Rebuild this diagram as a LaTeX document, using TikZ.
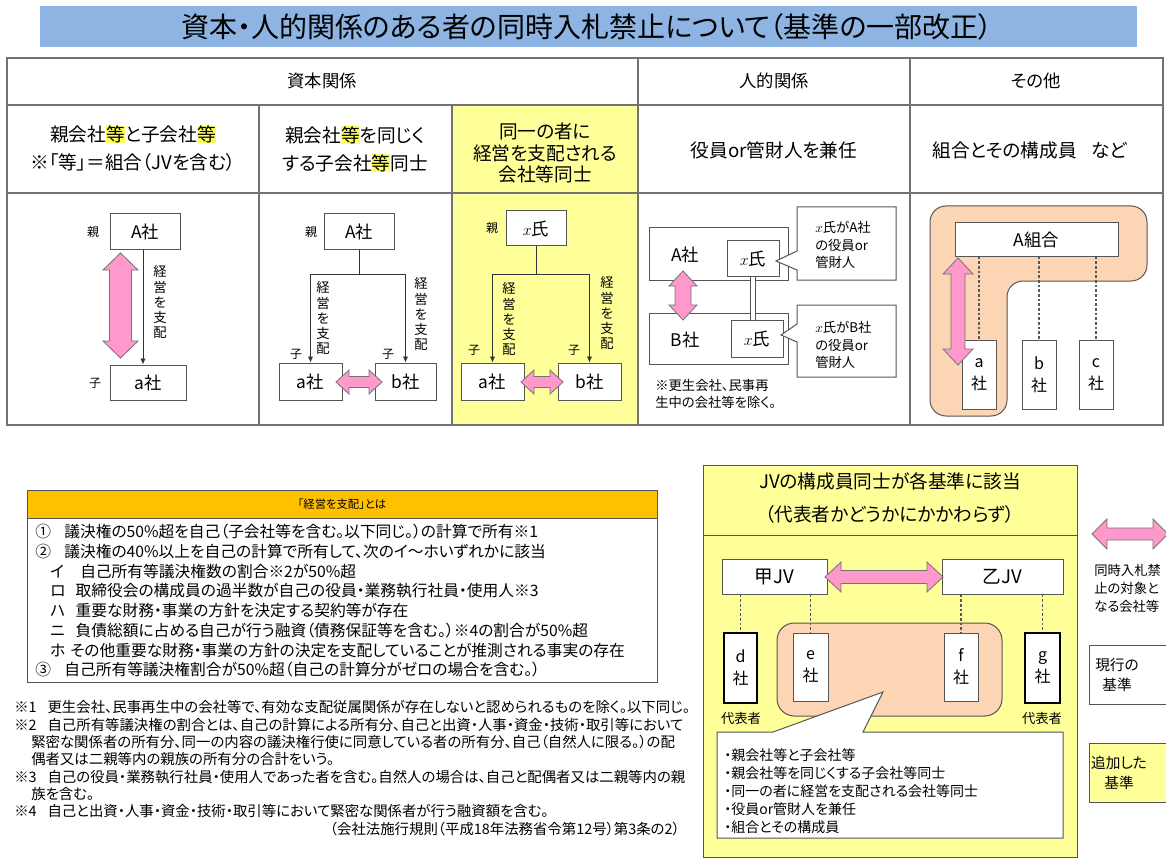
\documentclass[tikz,border=0pt]{standalone}
\usepackage{fontspec}
\setmainfont{Noto Sans CJK JP}[RawFeature=+palt]
\usetikzlibrary{arrows.meta}
\definecolor{titleblue}{RGB}{141,180,226}
\definecolor{yel}{RGB}{255,255,153}
\definecolor{hlyel}{RGB}{255,255,90}
\definecolor{hdrorange}{RGB}{255,192,0}
\definecolor{peach}{RGB}{252,213,180}
\definecolor{pinkarr}{RGB}{255,153,204}
\definecolor{linegray}{RGB}{85,85,85}
\newcommand\fsz[2]{\fontsize{#1}{#2}\selectfont}
\newcommand\hlt[1]{{\setlength{\fboxsep}{0pt}\colorbox{hlyel}{#1}}}
\newcommand\boxat[6]{\node[#1,minimum width={(#4-#2)*0.75pt},minimum height={(#5-#3)*0.75pt}] (#6) at ({(#2+#4)/2},{(#3+#5)/2})}
\newcommand\pinkH[6]{\filldraw[parr] (#1,#3) -- ({#1+#6},{#3-#4}) -- ({#1+#6},{#3-#5}) -- ({#2-#6},{#3-#5}) -- ({#2-#6},{#3-#4}) -- (#2,#3) -- ({#2-#6},{#3+#4}) -- ({#2-#6},{#3+#5}) -- ({#1+#6},{#3+#5}) -- ({#1+#6},{#3+#4}) -- cycle;}
\newcommand\pinkV[6]{\filldraw[parr] (#1,#2) -- ({#1+#4},{#2+#6}) -- ({#1+#5},{#2+#6}) -- ({#1+#5},{#3-#6}) -- ({#1+#4},{#3-#6}) -- (#1,#3) -- ({#1-#4},{#3-#6}) -- ({#1-#5},{#3-#6}) -- ({#1-#5},{#2+#6}) -- ({#1-#4},{#2+#6}) -- cycle;}
\tikzset{
 bx/.style={draw=linegray, line width=0.75pt, fill=white, inner sep=0pt, font=\fsz{13}{15}},
 bold box/.style={bx, draw=black, line width=1.9pt},
 lbl/.style={inner sep=0pt, font=\fsz{9}{10}},
 vtx/.style={inner sep=0pt, align=center, font=\fsz{10}{11.3}},
 hdr/.style={inner sep=0pt, font=\fsz{13}{15}},
 rowtwo/.style={inner sep=0pt, align=center, font=\fsz{14}{21}},
 ln/.style={draw=black!80, line width=0.6pt},
 ctl/.style={ln, -{Latex[length=4.5pt,width=4pt]}},
 tbl/.style={draw=black!55, line width=1.2pt},
 dotl/.style={draw=black!65, line width=0.8pt, dash pattern=on 2pt off 1.5pt},
 parr/.style={fill=pinkarr, draw=black!55, line width=0.6pt},
 txt/.style={inner sep=0pt, anchor=west},
 boxline/.style={txt, font=\fsz{11.8}{14}},
 fnote/.style={txt, font=\fsz{10.8}{13}},
 small/.style={inner sep=0pt, font=\fsz{10}{13}},
}
\begin{document}
\begin{tikzpicture}[x=0.75pt,y=-0.75pt]
\useasboundingbox (0,0) rectangle (1166,859);
\clip (0,0) rectangle (1166,859);
\fill[white] (0,0) rectangle (1166,859);

% ---------- title ----------
\fill[titleblue] (40,6) rectangle (1137,47);
\node[inner sep=0pt, font=\fsz{21}{24}] (title) at (587,27) {資本・人的関係のある者の同時入札禁止について（基準の一部改正）};

% ---------- table ----------
\fill[yel] (452,105) rectangle (638,425);
\draw[tbl] (7,58) rectangle (1163,425);
\draw[tbl] (7,105) -- (1163,105);
\draw[tbl] (7,193) -- (1163,193);
\draw[tbl] (259,105) -- (259,425);
\draw[tbl] (452,105) -- (452,425);
\draw[tbl] (638,58) -- (638,425);
\draw[tbl] (910,58) -- (910,425);

\node[hdr] (h1) at (322,81) {資本関係};
\node[hdr] (h2) at (774,81) {人的関係};
\node[hdr] (h3) at (1036,81) {その他};

\node[rowtwo] (c1) at (133,149) {親会社\hlt{等}と子会社\hlt{等}\\※「等」＝組合（JVを含む）};
\node[rowtwo] (c2) at (355,149) {親会社\hlt{等}を同じく\\する子会社\hlt{等}同士};
\node[rowtwo, font=\fsz{14}{15.8}] (c3) at (545,153) {同一の者に\\経営を支配される\\会社等同士};
\node[rowtwo] (c4) at (774,150) {役員or管財人を兼任};
\node[rowtwo] (c5) at (1030,150) {組合とその構成員\hspace{0.8em}など};

% ---------- column 1 ----------
\boxat{bx}{110}{214}{180}{249}{A1} {A社};
\node[lbl] (p1) at (93,232) {親};
\boxat{bx}{110}{365}{186}{400}{a1} {a社};
\node[lbl] (k1) at (95,383) {子};
\coordinate (l1) at (143,0);
\draw[ctl] (A1.south -| l1) -- (a1.north -| l1);
\node[vtx] (v1) at (160,302) {経\\営\\を\\支\\配};
\pinkV{120.5}{253}{358}{17.5}{11}{17}

% ---------- column 2 ----------
\boxat{bx}{324}{214}{394}{249}{A2} {A社};
\node[lbl] (p2) at (311,232) {親};
\boxat{bx}{279}{363}{342}{400}{a2} {a社};
\boxat{bx}{375}{363}{436}{400}{b2} {b社};
\coordinate (j2) at (359,274);
\draw[ln] (A2.south) -- (A2.south |- j2);
\draw[ctl] (A2.south |- j2) -| (a2.north);
\draw[ctl] (A2.south |- j2) -| (b2.north);
\node[vtx] (v2a) at (323,318) {経\\営\\を\\支\\配};
\node[vtx] (v2b) at (421,314) {経\\営\\を\\支\\配};
\node[lbl] (k2a) at (296,354) {子};
\node[lbl] (k2b) at (388,354) {子};
\pinkH{336}{382}{382}{12}{5.5}{13}

% ---------- column 3 ----------
\boxat{bx}{506}{211}{566}{246}{X3} {$x$氏};
\node[lbl] (p3) at (492,228) {親};
\boxat{bx}{461}{363}{524}{400}{a3} {a社};
\boxat{bx}{558}{363}{621}{400}{b3} {b社};
\coordinate (j3) at (536,274);
\draw[ln] (X3.south) -- (X3.south |- j3);
\draw[ctl] (X3.south |- j3) -| (a3.north);
\draw[ctl] (X3.south |- j3) -| (b3.north);
\node[vtx] (v3a) at (509,319) {経\\営\\を\\支\\配};
\node[vtx] (v3b) at (607,313) {経\\営\\を\\支\\配};
\node[lbl] (k3a) at (474,350) {子};
\node[lbl] (k3b) at (574,350) {子};
\pinkH{521}{563}{382}{12}{5.5}{13}

% ---------- column 4 ----------
\boxat{bx}{649}{228}{788}{280}{AA} {};
\node[inner sep=0pt, font=\fsz{13}{15}] (AAt) at (685,255) {A社};
\boxat{bx}{649}{313}{788}{364}{BB} {};
\node[inner sep=0pt, font=\fsz{13}{15}] (BBt) at (685,340) {B社};
\boxat{bx}{727}{241}{779}{276}{xA} {$x$氏};
\boxat{bx}{731}{320}{783}{357}{xB} {$x$氏};
\draw[draw=linegray, line width=0.6pt, double=white, double distance=3pt] (xA.south) -- (xA.south |- xB.north);
\pinkV{683}{271}{320}{14}{8}{15}
\filldraw[draw=linegray, line width=0.75pt, fill=white] (797,207) -- (896,207) -- (896,280) -- (797,280) -- (797,270) -- (776,261) -- (797,251) -- cycle;
\node[txt, font=\fsz{10}{13}, align=left] (co1) at (815,245) {$x$氏がA社\\の役員or\\管財人};
\filldraw[draw=linegray, line width=0.75pt, fill=white] (797,305) -- (896,305) -- (896,377) -- (797,377) -- (797,342) -- (781,335) -- (797,324) -- cycle;
\node[txt, font=\fsz{10}{13}, align=left] (co2) at (815,345) {$x$氏がB社\\の役員or\\管財人};
\node[txt, font=\fsz{10}{12.8}, align=left] (nt4) at (655,394) {※更生会社、民事再\\生中の会社等を除く。};

% ---------- column 5 ----------
\draw[fill=peach, draw=linegray, line width=0.75pt, rounded corners=12] (930,206) -- (1147,206) -- (1147,281) -- (1007,281) -- (1007,416) -- (930,416) -- cycle;
\boxat{bx}{955}{223}{1118}{256}{U5} {A組合};
\boxat{bx, align=center, font=\fsz{12}{16.3}}{962}{340}{996}{409}{a5} {a\\社};
\boxat{bx, align=center, font=\fsz{12}{16.3}}{1022}{340}{1056}{409}{b5} {b\\社};
\boxat{bx, align=center, font=\fsz{12}{16.3}}{1079}{340}{1113}{409}{c5} {c\\社};
\draw[dotl] (a5.north |- U5.south) -- (a5.north);
\draw[dotl] (b5.north |- U5.south) -- (b5.north);
\draw[dotl] (c5.north |- U5.south) -- (c5.north);
\pinkV{958}{258}{365}{15}{7}{16}

% ---------- "経営を支配"とは ----------
\filldraw[fill=white, draw=linegray, line width=0.75pt] (27,490) rectangle (657,682);
\filldraw[fill=hdrorange, draw=linegray, line width=0.75pt] (27,490) rectangle (657,518);
\node[inner sep=0pt, font=\fsz{8.5}{10}] (kh) at (342,504) {「経営を支配」とは};
\node[boxline] (k1l) at (35,532) {\hbox to 21.8pt{①\hss}議決権の50\%超を自己（子会社等を含む。以下同じ。）の計算で所有※1};
\node[boxline] (k2l) at (35,551.7) {\hbox to 21.8pt{②\hss}議決権の40\%以上を自己の計算で所有して、次のイ～ホいずれかに該当};
\node[boxline] (k3l) at (50,571.4) {\hbox to 22.5pt{イ\hss}自己所有等議決権数の割合※2が50\%超};
\node[boxline] (k4l) at (50,591.1) {\hbox to 19pt{ロ\hss}取締役会の構成員の過半数が自己の役員・業務執行社員・使用人※3};
\node[boxline] (k5l) at (50,610.8) {\hbox to 19pt{ハ\hss}重要な財務・事業の方針を決定する契約等が存在};
\node[boxline] (k6l) at (50,630.5) {\hbox to 19pt{ニ\hss}負債総額に占める自己が行う融資（債務保証等を含む。）※4の割合が50\%超};
\node[boxline] (k7l) at (50,650.2) {\hbox to 15pt{ホ\hss}その他重要な財務・事業の方針の決定を支配していることが推測される事実の存在};
\node[boxline] (k8l) at (35,670) {\hbox to 21.8pt{③\hss}自己所有等議決権割合が50\%超（自己の計算分がゼロの場合を含む。）};

% ---------- footnotes ----------
\node[fnote] (f1) at (14,707) {\hbox to 25pt{※1\hss}更生会社、民事再生中の会社等で、有効な支配従属関係が存在しないと認められるものを除く。以下同じ。};
\node[fnote] (f2) at (14,725) {\hbox to 25pt{※2\hss}自己所有等議決権の割合とは、自己の計算による所有分、自己と出資・人事・資金・技術・取引等において};
\node[fnote] (f2b) at (31,742) {緊密な関係者の所有分、同一の内容の議決権行使に同意している者の所有分、自己（自然人に限る。）の配};
\node[fnote] (f2c) at (31,759) {偶者又は二親等内の親族の所有分の合計をいう。};
\node[fnote] (f3) at (14,777) {\hbox to 25pt{※3\hss}自己の役員・業務執行社員・使用人であった者を含む。自然人の場合は、自己と配偶者又は二親等内の親};
\node[fnote] (f3b) at (31,794) {族を含む。};
\node[fnote] (f4) at (14,811) {\hbox to 25pt{※4\hss}自己と出資・人事・資金・技術・取引等において緊密な関係者が行う融資額を含む。};
\node[fnote, anchor=east] (f5) at (680,829) {（会社法施行規則（平成18年法務省令第12号）第3条の2）};

% ---------- JV ----------
\filldraw[fill=yel, draw=linegray, line width=0.75pt] (703,465) rectangle (1077,857);
\draw[draw=linegray, line width=0.75pt] (703,535) -- (1077,535);
\node[inner sep=0pt, align=center, font=\fsz{14}{25}] (jvh) at (890,498) {JVの構成員同士が各基準に該当\\（代表者かどうかにかかわらず）};
\boxat{bx, font=\fsz{14}{16}}{722}{559}{827}{594}{J1} {甲JV};
\boxat{bx, font=\fsz{14}{16}}{942}{559}{1063}{594}{J2} {乙JV};
\pinkH{825}{943}{577}{15}{6.5}{16}
\draw[fill=peach, draw=linegray, line width=0.75pt, rounded corners=13] (777,623) rectangle (1002,716);
\boxat{bold box, align=center, font=\fsz{12}{16.3}}{724}{633}{757}{703}{dd} {d\\社};
\boxat{bx, align=center, font=\fsz{12}{16.3}}{793}{633}{828}{701}{ee} {e\\社};
\boxat{bx, align=center, font=\fsz{12}{16.3}}{944}{633}{978}{701}{ff} {f\\社};
\boxat{bold box, align=center, font=\fsz{12}{16.3}}{1025}{633}{1060}{703}{gg} {g\\社};
\draw[dotl] (dd.north |- J1.south) -- (dd.north);
\draw[dotl] (ee.north |- J1.south) -- (ee.north);
\draw[dotl] (ff.north |- J2.south) -- (ff.north);
\draw[dotl] (gg.north |- J2.south) -- (gg.north);
\node[small] (rd) at (741,718) {代表者};
\node[small] (rg) at (1042,718) {代表者};
\filldraw[fill=white, draw=linegray, line width=0.75pt] (717,732) -- (773,732) -- (883,692) -- (863,732) -- (1063,732) -- (1063,838) -- (717,838) -- cycle;
\node[txt, font=\fsz{10.5}{13.5}, align=left] (jl) at (724,791) {・親会社等と子会社等\\・親会社等を同じくする子会社等同士\\・同一の者に経営を支配される会社等同士\\・役員or管財人を兼任\\・組合とその構成員};

% ---------- legend ----------
\pinkH{1092}{1168}{534}{15}{6}{15}
\node[txt, font=\fsz{10}{13.5}, align=left] (lg1) at (1094,588) {同時入札禁\\止の対象と\\なる会社等};
\boxat{bx}{1089}{645}{1190}{704}{lg2} {};
\node[inner sep=0pt, align=center, font=\fsz{11}{15}] (lg2t) at (1117,675) {現行の\\基準};
\boxat{bx, fill=yel}{1089}{743}{1190}{802}{lg3} {};
\node[inner sep=0pt, align=center, font=\fsz{11}{15}] (lg3t) at (1119,773) {追加した\\基準};
\end{tikzpicture}
\end{document}
